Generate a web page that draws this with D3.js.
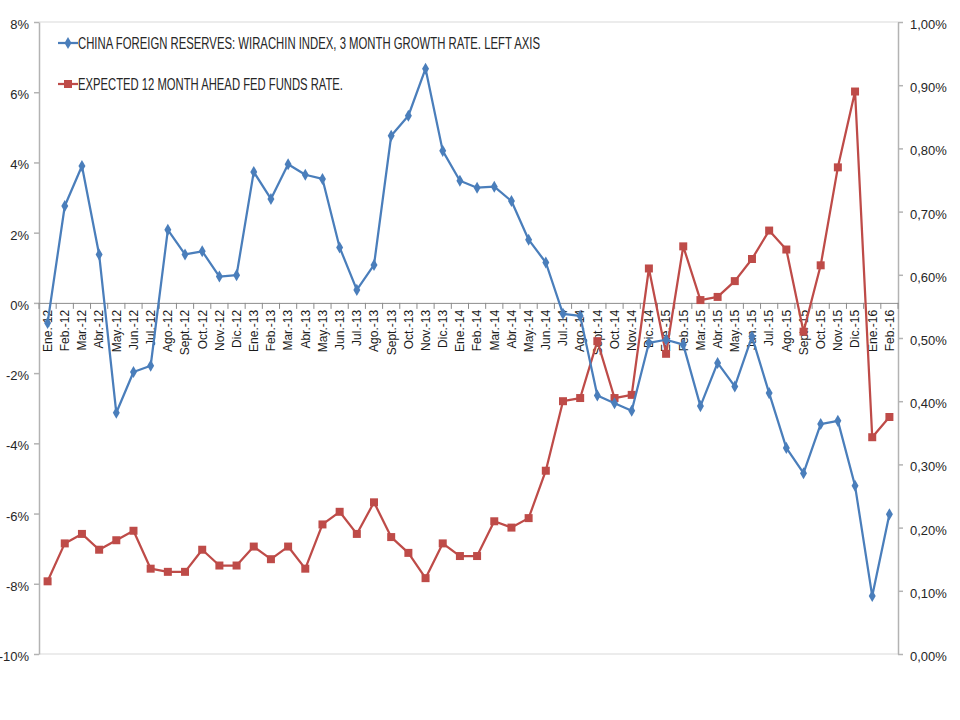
<!DOCTYPE html>
<html lang="es">
<head>
  <meta charset="UTF-8">
  <title>China reserves vs Fed funds</title>
  <style>
    body { margin: 0; background: #fff; }
    svg { display: block; }
    text { fill: #262626; }
  </style>
</head>
<body>
  <div id="chart"></div>

  <script src="https://d3js.org/d3.v7.min.js"></script>
  <script>

    const months = [
      "Ene.-12","Feb.-12","Mar.-12","Abr.-12","May.-12","Jun.-12","Jul.-12","Ago.-12","Sept.-12","Oct.-12","Nov.-12","Dic.-12",
      "Ene.-13","Feb.-13","Mar.-13","Abr.-13","May.-13","Jun.-13","Jul.-13","Ago.-13","Sept.-13","Oct.-13","Nov.-13","Dic.-13",
      "Ene.-14","Feb.-14","Mar.-14","Abr.-14","May.-14","Jun.-14","Jul.-14","Ago.-14","Sept.-14","Oct.-14","Nov.-14","Dic.-14",
      "Ene.-15","Feb.-15","Mar.-15","Abr.-15","May.-15","Jun.-15","Jul.-15","Ago.-15","Sept.-15","Oct.-15","Nov.-15","Dic.-15",
      "Ene.-16","Feb.-16"
    ];

    // 3 month growth rate, % (left axis)
    const reserves = [
      -0.57, 2.76, 3.90, 1.38, -3.13, -1.97, -1.79, 2.08, 1.38, 1.47, 0.75, 0.79,
      3.73, 2.96, 3.95, 3.65, 3.53, 1.58, 0.37, 1.08, 4.76, 5.33, 6.67, 4.33,
      3.48, 3.28, 3.31, 2.90, 1.80, 1.15, -0.31, -0.37, -2.64, -2.86, -3.07, -1.14,
      -1.05, -1.19, -2.94, -1.71, -2.38, -0.96, -2.57, -4.13, -4.85, -3.45, -3.36, -5.21,
      -8.35, -6.02
    ];

    // expected 12 month ahead fed funds rate, % (right axis)
    const fedFunds = [
      0.115, 0.175, 0.190, 0.165, 0.180, 0.195, 0.135, 0.130, 0.130, 0.165, 0.140, 0.140,
      0.170, 0.150, 0.170, 0.135, 0.205, 0.225, 0.190, 0.240, 0.185, 0.160, 0.120, 0.175,
      0.155, 0.155, 0.210, 0.200, 0.215, 0.290, 0.400, 0.405, 0.495, 0.405, 0.410, 0.610,
      0.475, 0.645, 0.560, 0.565, 0.590, 0.625, 0.670, 0.640, 0.510, 0.615, 0.770, 0.890,
      0.343, 0.375
    ];

    const leftTicks = [-10, -8, -6, -4, -2, 0, 2, 4, 6, 8];
    const rightTicks = [0, 0.1, 0.2, 0.3, 0.4, 0.5, 0.6, 0.7, 0.8, 0.9, 1.0];

    const seriesNames = [
      "CHINA FOREIGN RESERVES: WIRACHIN INDEX, 3 MONTH GROWTH RATE. LEFT AXIS",
      "EXPECTED 12 MONTH AHEAD FED FUNDS RATE."
    ];

    const width = 960,
          height = 720,
          margin = {top: 22, right: 62, bottom: 66, left: 39};

    const blue = "#4a7ebb",
          red = "#be4b48",
          axisGrey = "#b3b3b3";

    const svg = d3.select("#chart")
      .append("svg")
      .attr("width", width)
      .attr("height", height)
      .attr("viewBox", [0, 0, width, height]);

    const x = d3.scaleBand(months, [margin.left, width - margin.right]);
    const yL = d3.scaleLinear([-10, 8], [height - margin.bottom, margin.top]);
    const yR = d3.scaleLinear([0, 1], [height - margin.bottom, margin.top]);
    const cx = d => x(d) + x.bandwidth() / 2;

    // plot area top / bottom border
    svg.append("g")
      .selectAll("line")
      .data([margin.top, height - margin.bottom])
      .join("line")
      .attr("x1", margin.left)
      .attr("x2", width - margin.right)
      .attr("y1", d => d)
      .attr("y2", d => d)
      .attr("stroke", "#d9d9d9");

    // left axis
    const gl = svg.append("g")
      .attr("transform", `translate(${margin.left},0)`)
      .call(d3.axisLeft(yL).tickValues(leftTicks).tickFormat(d => d + "%")
        .tickSize(5).tickSizeOuter(0).tickPadding(5));

    // right axis
    const gr = svg.append("g")
      .attr("transform", `translate(${width - margin.right},0)`)
      .call(d3.axisRight(yR).tickValues(rightTicks)
        .tickFormat(d => d.toFixed(2).replace(".", ",") + "%")
        .tickSize(5).tickSizeOuter(0).tickPadding(7));

    [gl, gr].forEach(g => {
      g.selectAll("path, line").attr("stroke", axisGrey).attr("stroke-width", 1.5);
      g.selectAll("text")
        .attr("dy", "0.5em")
        .style("font-family", "'Liberation Sans Narrow', sans-serif")
        .style("font-size", "13px")
        .style("fill", "#262626");
    });

    // category axis on the zero line
    const zeroY = yL(0);
    const gx = svg.append("g")
      .attr("transform", `translate(0,${zeroY})`)
      .call(d3.axisBottom(x).tickSize(0).tickPadding(0));

    gx.select(".domain").attr("stroke", "#8c8c8c").attr("stroke-width", 1);
    gx.selectAll("text")
      .attr("transform", "rotate(-90)")
      .attr("x", -7)
      .attr("y", 0)
      .attr("dy", "0.36em")
      .attr("text-anchor", "end")
      .style("font-family", "'Liberation Sans', sans-serif")
      .style("font-size", "12px")
      .style("fill", "#1a1a1a");

    // tick marks between categories
    gx.append("g")
      .selectAll("line")
      .data(months.map(d => x(d)).concat([x.range()[1]]))
      .join("line")
      .attr("x1", d => d)
      .attr("x2", d => d)
      .attr("y1", 0)
      .attr("y2", 6)
      .attr("stroke", "#8c8c8c");

    const lineL = d3.line()
      .x((d, i) => cx(months[i]))
      .y(d => yL(d));

    const lineR = d3.line()
      .x((d, i) => cx(months[i]))
      .y(d => yR(d));

    // fed funds series
    svg.append("path")
      .datum(fedFunds)
      .attr("fill", "none")
      .attr("stroke", red)
      .attr("stroke-width", 2.25)
      .attr("stroke-linejoin", "round")
      .attr("d", lineR);

    svg.append("g")
      .selectAll("path")
      .data(fedFunds)
      .join("path")
      .attr("transform", (d, i) => `translate(${cx(months[i])},${yR(d)})`)
      .attr("d", d3.symbol(d3.symbolSquare, 64))
      .attr("fill", red);

    // reserves series
    svg.append("path")
      .datum(reserves)
      .attr("fill", "none")
      .attr("stroke", blue)
      .attr("stroke-width", 2.25)
      .attr("stroke-linejoin", "round")
      .attr("d", lineL);

    svg.append("g")
      .selectAll("path")
      .data(reserves)
      .join("path")
      .attr("transform", (d, i) => `translate(${cx(months[i])},${yL(d)})`)
      .attr("d", d3.symbol(d3.symbolDiamond, 42))
      .attr("fill", blue);

    // legend
    const legend = svg.selectAll(".legend-group")
      .data(seriesNames)
      .join("g")
      .attr("class", "legend-group")
      .attr("transform", (d, i) => `translate(58,${43 + i * 41})`);

    legend.append("line")
      .attr("x1", 0)
      .attr("x2", 20)
      .attr("stroke", (d, i) => i ? red : blue)
      .attr("stroke-width", 2.25);

    legend.append("path")
      .attr("transform", "translate(10,0)")
      .attr("d", (d, i) => i ? d3.symbol(d3.symbolSquare, 64)() : d3.symbol(d3.symbolDiamond, 42)())
      .attr("fill", (d, i) => i ? red : blue);

    legend.append("text")
      .attr("x", 20)
      .attr("dy", "0.36em")
      .attr("textLength", (d, i) => i ? 265 : 462)
      .attr("lengthAdjust", "spacingAndGlyphs")
      .style("font-family", "'Liberation Sans Narrow', sans-serif")
      .style("font-size", "17px")
      .text(d => d);

  </script>
</body>
</html>
